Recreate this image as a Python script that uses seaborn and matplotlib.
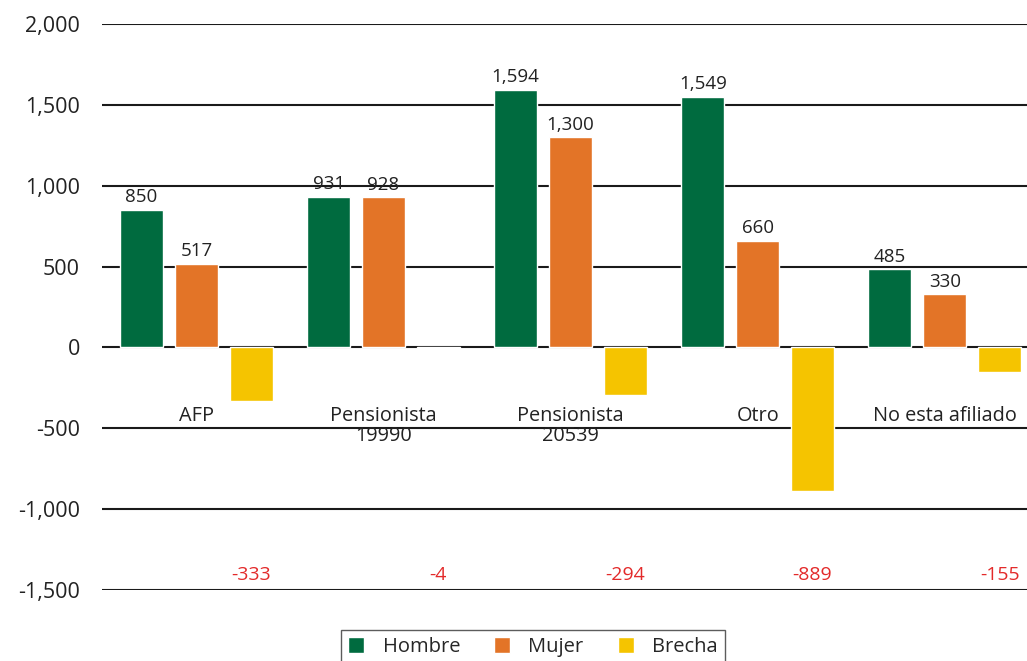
import matplotlib
matplotlib.use("Agg")
import matplotlib.pyplot as plt
import seaborn as sns
import pandas as pd
from matplotlib.ticker import FuncFormatter

categorias = ["AFP", "Pensionista\n19990", "Pensionista\n20539", "Otro", "No esta afiliado"]
hombre = [850, 931, 1594, 1549, 485]
mujer = [517, 928, 1300, 660, 330]
brecha = [-333, -4, -294, -889, -155]
series = ["Hombre", "Mujer", "Brecha"]
colores = ["#006B3F", "#E37427", "#F5C400"]
yticks = [-1500, -1000, -500, 0, 500, 1000, 1500, 2000]

df = pd.DataFrame({
    "categoria": categorias * 3,
    "serie": ["Hombre"] * 5 + ["Mujer"] * 5 + ["Brecha"] * 5,
    "valor": hombre + mujer + brecha,
})

sns.set_style("white")
plt.rcParams["font.family"] = ["Open Sans", "DejaVu Sans"]

W, H = 1027, 661
fig = plt.figure(figsize=(W / 100, H / 100), dpi=100)
ax = fig.add_axes([102 / W, 1 - 590 / H, (W - 102) / W, (590 - 24) / H])

sns.barplot(data=df, x="categoria", y="valor", hue="serie", hue_order=series,
            palette=colores, order=categorias, width=0.88, gap=0.22,
            saturation=1, ax=ax, legend=True)

ax.set_ylim(-1500, 2000)
ax.set_xlim(-0.505, 4.44)
ax.set_yticks(yticks)
ax.yaxis.set_major_formatter(FuncFormatter(lambda v, p: f"{v:,.0f}"))
ax.tick_params(axis="y", length=0, pad=16, labelsize=15.5, labelcolor="#222222")
ax.set_xticks([])
ax.set_xlabel("")
ax.set_ylabel("")
for s in ax.spines.values():
    s.set_visible(False)
ax.set_axisbelow(True)
ax.yaxis.grid(True, color="#1a1a1a", linewidth=1.5)

# value labels for Hombre and Mujer
for cont in ax.containers[:2]:
    ax.bar_label(cont, fmt="{:,.0f}", padding=2.5, fontsize=13.5, color="#222222")

# category names below the zero line
for i, c in enumerate(categorias):
    ax.text(i, -365, c, ha="center", va="top", fontsize=14.3, color="#222222",
            linespacing=1.0)

# gap values in red along the bottom
brecha_bars = ax.containers[2]
for rect, v in zip(brecha_bars, brecha):
    xc = rect.get_x() + rect.get_width() / 2
    ax.text(xc, -1410, f"{v:,.0f}", ha="center", va="center", fontsize=14,
            color="#E32A2A")

leg = ax.legend(loc="upper center", bbox_to_anchor=(533 / W, 1 - 630 / H),
                bbox_transform=fig.transFigure, ncol=3, frameon=True,
                fancybox=False, edgecolor="#333333", fontsize=14.5,
                handlelength=0.8, handleheight=0.8, columnspacing=1.7,
                handletextpad=0.9, borderpad=0.35, borderaxespad=0, title=None)
leg.get_frame().set_linewidth(1.0)

fig.savefig("out.png", dpi=100)
